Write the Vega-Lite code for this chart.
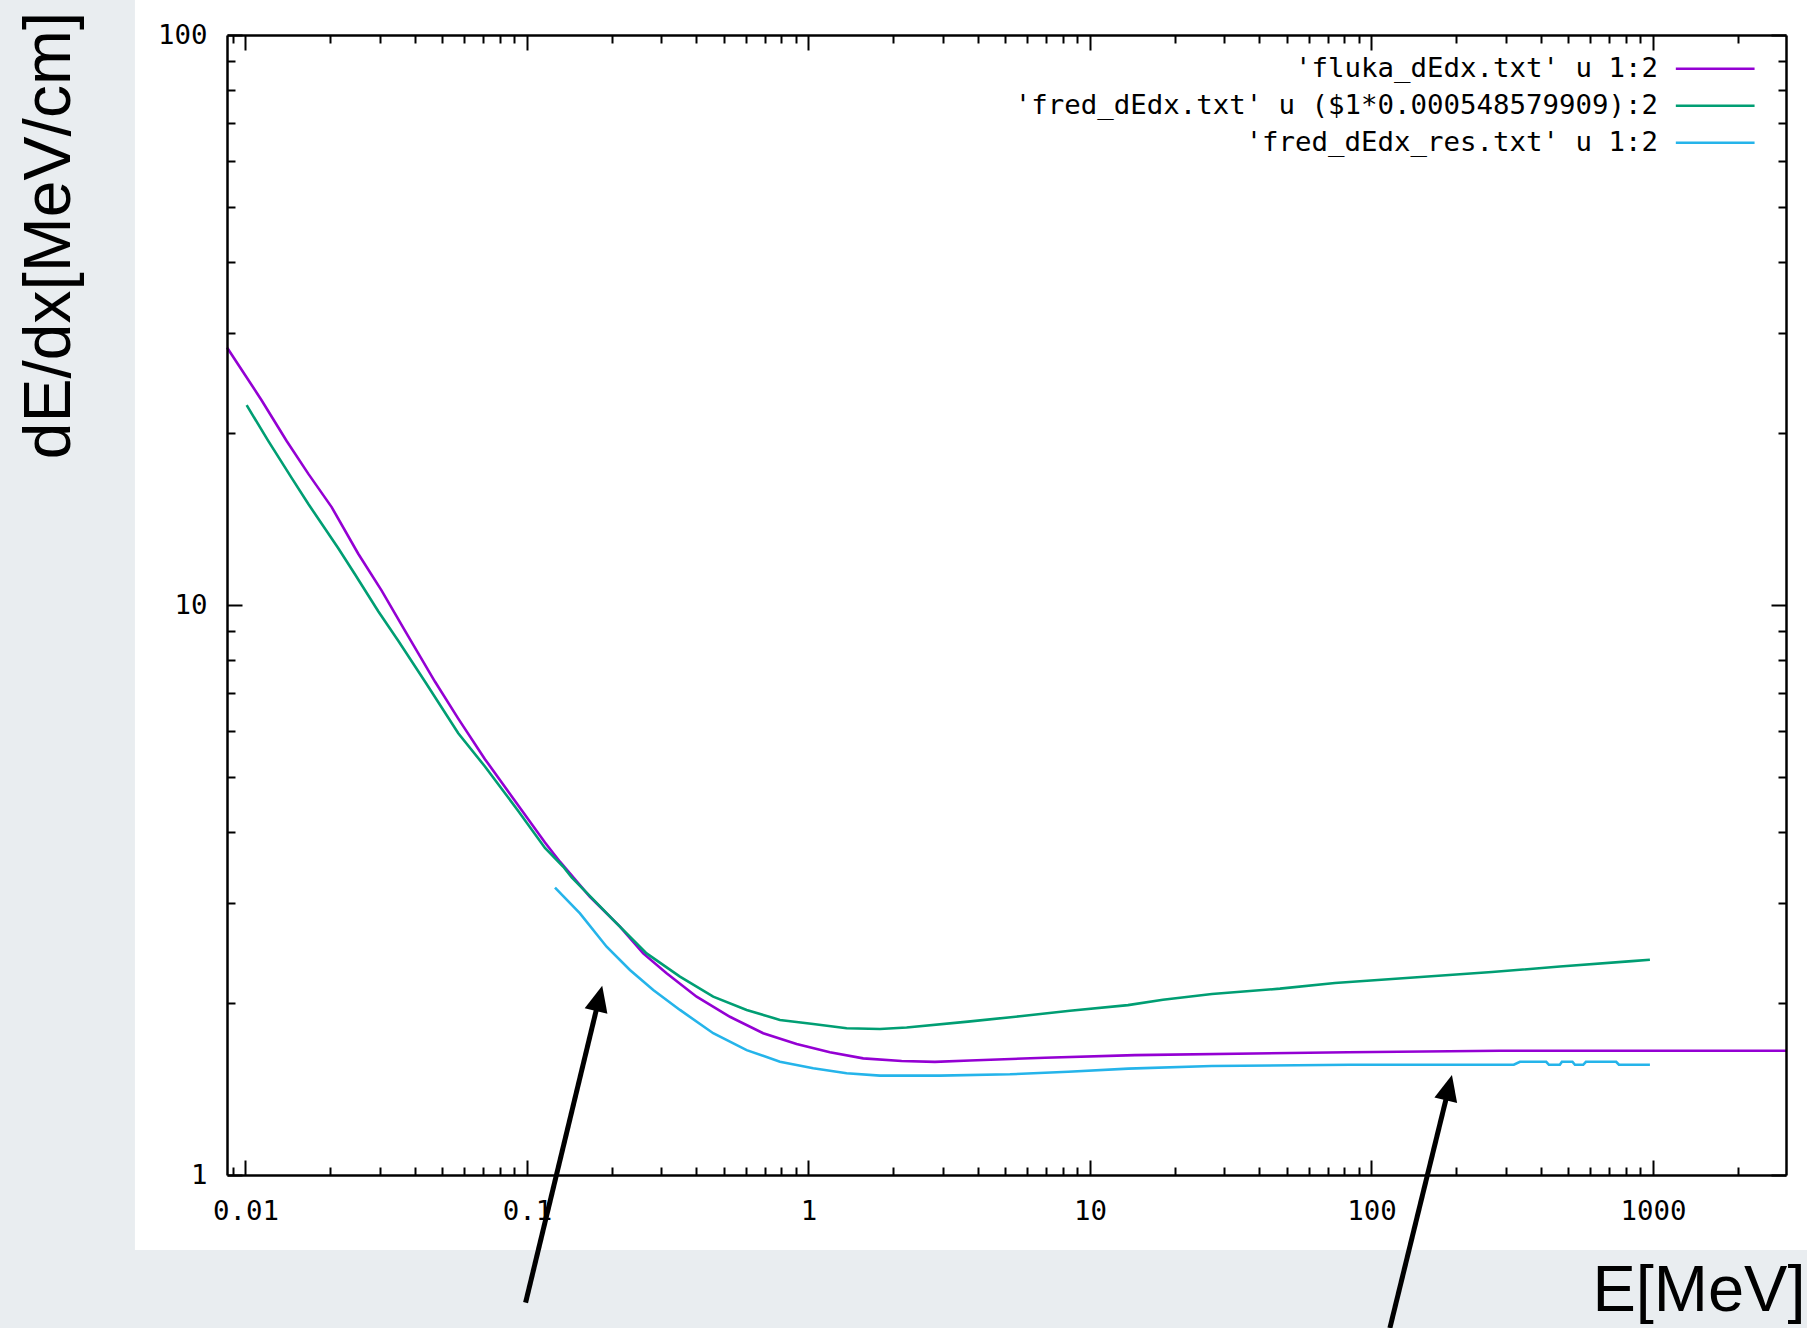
{
  "$schema": "https://vega.github.io/schema/vega-lite/v6.json",
  "width": 1559,
  "height": 1140,
  "autosize": "none",
  "padding": {"left": 227, "top": 35, "right": 21, "bottom": 153},
  "background": "#e9edf0",
  "config": {
    "view": {"stroke": null},
    "axis": {
      "grid": false,
      "zindex": 1,
      "domainColor": "black",
      "domainWidth": 2.5,
      "tickColor": "black",
      "tickWidth": 2,
      "labelFont": "DejaVu Sans Mono",
      "labelFontSize": 27.4,
      "labelColor": "black",
      "labelOverlap": false,
      "labelFlush": false,
      "labelBound": false,
      "titleFont": "Liberation Sans",
      "titleFontWeight": "normal",
      "titleColor": "black"
    }
  },
  "datasets": {
    "curves": [
      {"series": "'fluka_dEdx.txt' u 1:2", "E": 0.0086, "dEdx": 28.3},
      {"series": "'fluka_dEdx.txt' u 1:2", "E": 0.01141, "dEdx": 22.87},
      {"series": "'fluka_dEdx.txt' u 1:2", "E": 0.01401, "dEdx": 19.4},
      {"series": "'fluka_dEdx.txt' u 1:2", "E": 0.01671, "dEdx": 17.0},
      {"series": "'fluka_dEdx.txt' u 1:2", "E": 0.02024, "dEdx": 14.85},
      {"series": "'fluka_dEdx.txt' u 1:2", "E": 0.02516, "dEdx": 12.3},
      {"series": "'fluka_dEdx.txt' u 1:2", "E": 0.03047, "dEdx": 10.6},
      {"series": "'fluka_dEdx.txt' u 1:2", "E": 0.03686, "dEdx": 9.02},
      {"series": "'fluka_dEdx.txt' u 1:2", "E": 0.04711, "dEdx": 7.34},
      {"series": "'fluka_dEdx.txt' u 1:2", "E": 0.05702, "dEdx": 6.32},
      {"series": "'fluka_dEdx.txt' u 1:2", "E": 0.07093, "dEdx": 5.365},
      {"series": "'fluka_dEdx.txt' u 1:2", "E": 0.08822, "dEdx": 4.62},
      {"series": "'fluka_dEdx.txt' u 1:2", "E": 0.1159, "dEdx": 3.832},
      {"series": "'fluka_dEdx.txt' u 1:2", "E": 0.131, "dEdx": 3.545},
      {"series": "'fluka_dEdx.txt' u 1:2", "E": 0.1674, "dEdx": 3.077},
      {"series": "'fluka_dEdx.txt' u 1:2", "E": 0.214, "dEdx": 2.727},
      {"series": "'fluka_dEdx.txt' u 1:2", "E": 0.2588, "dEdx": 2.448},
      {"series": "'fluka_dEdx.txt' u 1:2", "E": 0.3134, "dEdx": 2.259},
      {"series": "'fluka_dEdx.txt' u 1:2", "E": 0.4007, "dEdx": 2.055},
      {"series": "'fluka_dEdx.txt' u 1:2", "E": 0.5262, "dEdx": 1.895},
      {"series": "'fluka_dEdx.txt' u 1:2", "E": 0.6909, "dEdx": 1.773},
      {"series": "'fluka_dEdx.txt' u 1:2", "E": 0.9079, "dEdx": 1.697},
      {"series": "'fluka_dEdx.txt' u 1:2", "E": 1.192, "dEdx": 1.642},
      {"series": "'fluka_dEdx.txt' u 1:2", "E": 1.565, "dEdx": 1.602},
      {"series": "'fluka_dEdx.txt' u 1:2", "E": 2.143, "dEdx": 1.585},
      {"series": "'fluka_dEdx.txt' u 1:2", "E": 2.814, "dEdx": 1.579},
      {"series": "'fluka_dEdx.txt' u 1:2", "E": 3.747, "dEdx": 1.588},
      {"series": "'fluka_dEdx.txt' u 1:2", "E": 6.92, "dEdx": 1.606},
      {"series": "'fluka_dEdx.txt' u 1:2", "E": 14.45, "dEdx": 1.623},
      {"series": "'fluka_dEdx.txt' u 1:2", "E": 82.5, "dEdx": 1.642},
      {"series": "'fluka_dEdx.txt' u 1:2", "E": 286.1, "dEdx": 1.652},
      {"series": "'fluka_dEdx.txt' u 1:2", "E": 2970, "dEdx": 1.652},

      {"series": "'fred_dEdx.txt' u ($1*0.000548579909):2", "E": 0.0101, "dEdx": 22.42},
      {"series": "'fred_dEdx.txt' u ($1*0.000548579909):2", "E": 0.01205, "dEdx": 19.4},
      {"series": "'fred_dEdx.txt' u ($1*0.000548579909):2", "E": 0.01459, "dEdx": 16.71},
      {"series": "'fred_dEdx.txt' u ($1*0.000548579909):2", "E": 0.01671, "dEdx": 15.05},
      {"series": "'fred_dEdx.txt' u ($1*0.000548579909):2", "E": 0.02137, "dEdx": 12.58},
      {"series": "'fred_dEdx.txt' u ($1*0.000548579909):2", "E": 0.02449, "dEdx": 11.32},
      {"series": "'fred_dEdx.txt' u ($1*0.000548579909):2", "E": 0.02963, "dEdx": 9.75},
      {"series": "'fred_dEdx.txt' u ($1*0.000548579909):2", "E": 0.0349, "dEdx": 8.654},
      {"series": "'fred_dEdx.txt' u ($1*0.000548579909):2", "E": 0.04342, "dEdx": 7.34},
      {"series": "'fred_dEdx.txt' u ($1*0.000548579909):2", "E": 0.05702, "dEdx": 5.956},
      {"series": "'fred_dEdx.txt' u ($1*0.000548579909):2", "E": 0.07093, "dEdx": 5.208},
      {"series": "'fred_dEdx.txt' u ($1*0.000548579909):2", "E": 0.09314, "dEdx": 4.352},
      {"series": "'fred_dEdx.txt' u ($1*0.000548579909):2", "E": 0.1159, "dEdx": 3.747},
      {"series": "'fred_dEdx.txt' u ($1*0.000548579909):2", "E": 0.1346, "dEdx": 3.474},
      {"series": "'fred_dEdx.txt' u ($1*0.000548579909):2", "E": 0.1442, "dEdx": 3.326},
      {"series": "'fred_dEdx.txt' u ($1*0.000548579909):2", "E": 0.2025, "dEdx": 2.802},
      {"series": "'fred_dEdx.txt' u ($1*0.000548579909):2", "E": 0.2661, "dEdx": 2.448},
      {"series": "'fred_dEdx.txt' u ($1*0.000548579909):2", "E": 0.3496, "dEdx": 2.228},
      {"series": "'fred_dEdx.txt' u ($1*0.000548579909):2", "E": 0.4589, "dEdx": 2.055},
      {"series": "'fred_dEdx.txt' u ($1*0.000548579909):2", "E": 0.6033, "dEdx": 1.948},
      {"series": "'fred_dEdx.txt' u ($1*0.000548579909):2", "E": 0.7922, "dEdx": 1.871},
      {"series": "'fred_dEdx.txt' u ($1*0.000548579909):2", "E": 1.04, "dEdx": 1.84},
      {"series": "'fred_dEdx.txt' u ($1*0.000548579909):2", "E": 1.367, "dEdx": 1.809},
      {"series": "'fred_dEdx.txt' u ($1*0.000548579909):2", "E": 1.795, "dEdx": 1.804},
      {"series": "'fred_dEdx.txt' u ($1*0.000548579909):2", "E": 2.233, "dEdx": 1.815},
      {"series": "'fred_dEdx.txt' u ($1*0.000548579909):2", "E": 3.687, "dEdx": 1.858},
      {"series": "'fred_dEdx.txt' u ($1*0.000548579909):2", "E": 5.64, "dEdx": 1.899},
      {"series": "'fred_dEdx.txt' u ($1*0.000548579909):2", "E": 8.49, "dEdx": 1.941},
      {"series": "'fred_dEdx.txt' u ($1*0.000548579909):2", "E": 13.65, "dEdx": 1.986},
      {"series": "'fred_dEdx.txt' u ($1*0.000548579909):2", "E": 18.17, "dEdx": 2.03},
      {"series": "'fred_dEdx.txt' u ($1*0.000548579909):2", "E": 27.13, "dEdx": 2.077},
      {"series": "'fred_dEdx.txt' u ($1*0.000548579909):2", "E": 47.32, "dEdx": 2.123},
      {"series": "'fred_dEdx.txt' u ($1*0.000548579909):2", "E": 74.2, "dEdx": 2.172},
      {"series": "'fred_dEdx.txt' u ($1*0.000548579909):2", "E": 137.0, "dEdx": 2.219},
      {"series": "'fred_dEdx.txt' u ($1*0.000548579909):2", "E": 268.0, "dEdx": 2.27},
      {"series": "'fred_dEdx.txt' u ($1*0.000548579909):2", "E": 467.3, "dEdx": 2.321},
      {"series": "'fred_dEdx.txt' u ($1*0.000548579909):2", "E": 842.2, "dEdx": 2.373},
      {"series": "'fred_dEdx.txt' u ($1*0.000548579909):2", "E": 975.7, "dEdx": 2.386},

      {"series": "'fred_dEdx_res.txt' u 1:2", "E": 0.1258, "dEdx": 3.192},
      {"series": "'fred_dEdx_res.txt' u 1:2", "E": 0.1543, "dEdx": 2.878},
      {"series": "'fred_dEdx_res.txt' u 1:2", "E": 0.1919, "dEdx": 2.515},
      {"series": "'fred_dEdx_res.txt' u 1:2", "E": 0.2322, "dEdx": 2.289},
      {"series": "'fred_dEdx_res.txt' u 1:2", "E": 0.281, "dEdx": 2.111},
      {"series": "'fred_dEdx_res.txt' u 1:2", "E": 0.3496, "dEdx": 1.948},
      {"series": "'fred_dEdx_res.txt' u 1:2", "E": 0.4589, "dEdx": 1.773},
      {"series": "'fred_dEdx_res.txt' u 1:2", "E": 0.6033, "dEdx": 1.656},
      {"series": "'fred_dEdx_res.txt' u 1:2", "E": 0.7922, "dEdx": 1.58},
      {"series": "'fred_dEdx_res.txt' u 1:2", "E": 1.04, "dEdx": 1.539},
      {"series": "'fred_dEdx_res.txt' u 1:2", "E": 1.367, "dEdx": 1.508},
      {"series": "'fred_dEdx_res.txt' u 1:2", "E": 1.795, "dEdx": 1.494},
      {"series": "'fred_dEdx_res.txt' u 1:2", "E": 2.931, "dEdx": 1.494},
      {"series": "'fred_dEdx_res.txt' u 1:2", "E": 5.197, "dEdx": 1.502},
      {"series": "'fred_dEdx_res.txt' u 1:2", "E": 8.375, "dEdx": 1.518},
      {"series": "'fred_dEdx_res.txt' u 1:2", "E": 13.68, "dEdx": 1.537},
      {"series": "'fred_dEdx_res.txt' u 1:2", "E": 27.06, "dEdx": 1.553},
      {"series": "'fred_dEdx_res.txt' u 1:2", "E": 83.9, "dEdx": 1.561},
      {"series": "'fred_dEdx_res.txt' u 1:2", "E": 320.5, "dEdx": 1.561},
      {"series": "'fred_dEdx_res.txt' u 1:2", "E": 336.9, "dEdx": 1.58},
      {"series": "'fred_dEdx_res.txt' u 1:2", "E": 417.8, "dEdx": 1.58},
      {"series": "'fred_dEdx_res.txt' u 1:2", "E": 427.2, "dEdx": 1.561},
      {"series": "'fred_dEdx_res.txt' u 1:2", "E": 467.0, "dEdx": 1.561},
      {"series": "'fred_dEdx_res.txt' u 1:2", "E": 475.0, "dEdx": 1.58},
      {"series": "'fred_dEdx_res.txt' u 1:2", "E": 517.6, "dEdx": 1.58},
      {"series": "'fred_dEdx_res.txt' u 1:2", "E": 528.4, "dEdx": 1.561},
      {"series": "'fred_dEdx_res.txt' u 1:2", "E": 565.4, "dEdx": 1.561},
      {"series": "'fred_dEdx_res.txt' u 1:2", "E": 578.1, "dEdx": 1.58},
      {"series": "'fred_dEdx_res.txt' u 1:2", "E": 740.2, "dEdx": 1.58},
      {"series": "'fred_dEdx_res.txt' u 1:2", "E": 757.3, "dEdx": 1.561},
      {"series": "'fred_dEdx_res.txt' u 1:2", "E": 975.7, "dEdx": 1.561}
    ],
    "arrows": [
      {"arrow": 1, "xt": 0.0989, "yt": 0.597, "xh": 0.1805, "yh": 2.042},
      {"arrow": 2, "xt": 116.3, "yt": 0.539, "xh": 188.4, "yh": 1.423}
    ]
  },
  "layer": [
    {
      "data": {"values": [{}]},
      "mark": {"type": "rect", "color": "white", "clip": false},
      "encoding": {
        "x": {"datum": 0.00405, "type": "quantitative", "axis": null, "scale": {"type": "log", "domain": [0.0086, 2970], "nice": false}},
        "x2": {"datum": 6000},
        "y": {"datum": 0.7385, "type": "quantitative", "axis": null, "scale": {"type": "log", "domain": [1, 100], "nice": false}},
        "y2": {"datum": 115.2}
      }
    },
    {
      "data": {"name": "curves"},
      "mark": {"type": "line", "strokeWidth": 2.6, "clip": false},
      "encoding": {
        "x": {
          "field": "E", "type": "quantitative",
          "scale": {"type": "log", "domain": [0.0086, 2970], "nice": false},
          "axis": {
            "orient": "bottom",
            "zindex": 2,
            "values": [0.009, 0.01, 0.02, 0.03, 0.04, 0.05, 0.06, 0.07, 0.08, 0.09, 0.1, 0.2, 0.3, 0.4, 0.5, 0.6, 0.7, 0.8, 0.9, 1, 2, 3, 4, 5, 6, 7, 8, 9, 10, 20, 30, 40, 50, 60, 70, 80, 90, 100, 200, 300, 400, 500, 600, 700, 800, 900, 1000, 2000],
            "labelExpr": "indexof([0.01, 0.1, 1, 10, 100, 1000], datum.value) >= 0 ? datum.value + '' : ''",
            "tickSize": {"condition": {"test": "indexof([0.01, 0.1, 1, 10, 100, 1000], datum.value) >= 0", "value": -15}, "value": -8},
            "labelPadding": 37,
            "title": "E[MeV]",
            "titleFontSize": 65,
            "titleX": 1578,
            "titleY": 135,
            "titleAlign": "right",
            "titleBaseline": "alphabetic"
          }
        },
        "y": {
          "field": "dEdx", "type": "quantitative",
          "scale": {"type": "log", "domain": [1, 100], "nice": false},
          "axis": {
            "orient": "left",
            "zindex": 2,
            "values": [1, 2, 3, 4, 5, 6, 7, 8, 9, 10, 20, 30, 40, 50, 60, 70, 80, 90, 100],
            "labelExpr": "indexof([1, 10, 100], datum.value) >= 0 ? datum.value + '' : ''",
            "tickSize": {"condition": {"test": "indexof([1, 10, 100], datum.value) >= 0", "value": -15}, "value": -8},
            "labelPadding": 35,
            "title": "dE/dx[MeV/cm]",
            "titleFontSize": 66,
            "titleAngle": 270,
            "titleX": -158,
            "titleY": 200,
            "titleAlign": "center",
            "titleBaseline": "alphabetic"
          }
        },
        "color": {
          "field": "series", "type": "nominal",
          "scale": {
            "domain": ["'fluka_dEdx.txt' u 1:2", "'fred_dEdx.txt' u ($1*0.000548579909):2", "'fred_dEdx_res.txt' u 1:2"],
            "range": ["#9400d3", "#009e73", "#25b4ea"]
          },
          "legend": {
            "orient": "none",
            "legendX": 1445,
            "legendY": 20,
            "direction": "vertical",
            "title": null,
            "padding": 0,
            "symbolType": "M-10,0H10",
            "symbolSize": 62,
            "symbolStrokeWidth": 2.6,
            "symbolFillColor": "transparent",
            "symbolOffset": 29.5,
            "rowPadding": 8,
            "labelAlign": "right",
            "labelOffset": -71,
            "labelFont": "DejaVu Sans Mono",
            "labelFontSize": 27.4,
            "labelColor": "black",
            "labelLimit": 2000
          }
        }
      }
    },
    {
      "data": {"name": "arrows"},
      "mark": {"type": "rule", "color": "black", "strokeWidth": 5, "clip": false},
      "encoding": {
        "x": {
          "field": "xt", "type": "quantitative",
          "scale": {"type": "log", "domain": [0.0086, 2970], "nice": false},
          "axis": {
            "orient": "top",
            "zindex": 2,
            "labels": false,
            "title": null,
            "values": [0.009, 0.01, 0.02, 0.03, 0.04, 0.05, 0.06, 0.07, 0.08, 0.09, 0.1, 0.2, 0.3, 0.4, 0.5, 0.6, 0.7, 0.8, 0.9, 1, 2, 3, 4, 5, 6, 7, 8, 9, 10, 20, 30, 40, 50, 60, 70, 80, 90, 100, 200, 300, 400, 500, 600, 700, 800, 900, 1000, 2000],
            "tickSize": {"condition": {"test": "indexof([0.01, 0.1, 1, 10, 100, 1000], datum.value) >= 0", "value": -15}, "value": -8}
          }
        },
        "x2": {"field": "xh"},
        "y": {
          "field": "yt", "type": "quantitative",
          "scale": {"type": "log", "domain": [1, 100], "nice": false},
          "axis": {
            "orient": "right",
            "zindex": 2,
            "labels": false,
            "title": null,
            "values": [1, 2, 3, 4, 5, 6, 7, 8, 9, 10, 20, 30, 40, 50, 60, 70, 80, 90, 100],
            "tickSize": {"condition": {"test": "indexof([1, 10, 100], datum.value) >= 0", "value": -15}, "value": -8}
          }
        },
        "y2": {"field": "yh"}
      }
    },
    {
      "data": {"name": "arrows"},
      "mark": {"type": "point", "shape": "M0,-1L-0.9,1L0.9,1Z", "filled": true, "color": "black", "opacity": 1, "size": 676, "angle": 13.7, "strokeWidth": 0, "clip": false},
      "encoding": {
        "x": {"field": "xh", "type": "quantitative", "axis": null, "scale": {"type": "log", "domain": [0.0086, 2970], "nice": false}},
        "y": {"field": "yh", "type": "quantitative", "axis": null, "scale": {"type": "log", "domain": [1, 100], "nice": false}}
      }
    }
  ],
  "resolve": {"axis": {"x": "independent", "y": "independent"}}
}
